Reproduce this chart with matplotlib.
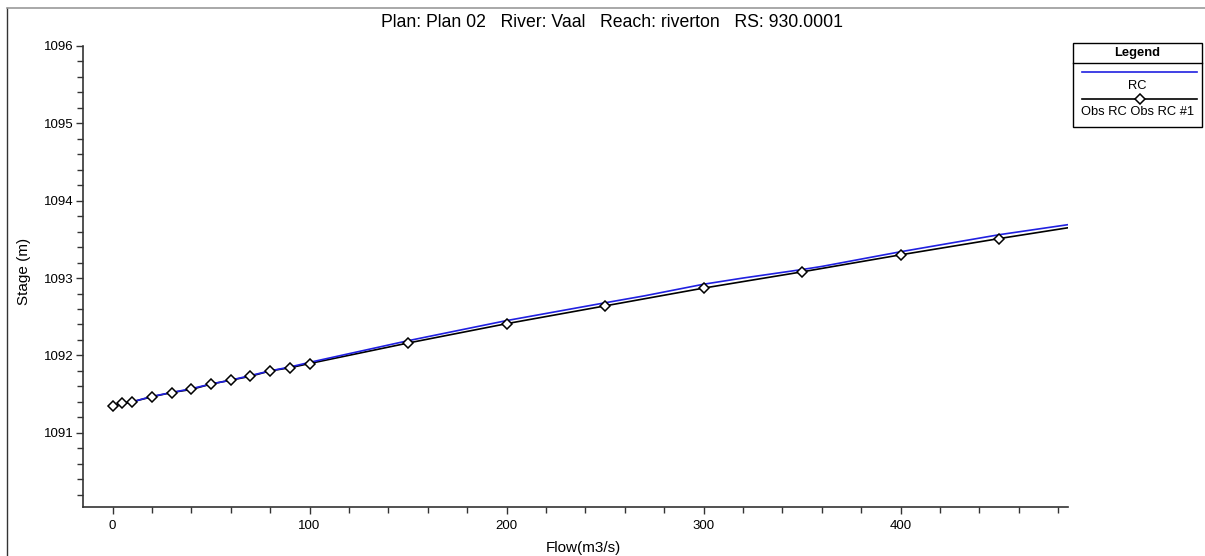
import numpy as np
import matplotlib.pyplot as plt
from matplotlib.ticker import MultipleLocator
from matplotlib.lines import Line2D
from matplotlib.patches import Rectangle

plt.rcParams['font.family'] = ['Liberation Sans', 'DejaVu Sans']

# rating curve (computed)
rc_flow = [0, 10, 20, 30, 40, 50, 60, 70, 80, 90, 100, 150, 200, 250, 270, 300, 320, 350, 360, 400, 450, 485]
rc_stage = [1091.35, 1091.40, 1091.47, 1091.52, 1091.57, 1091.63, 1091.68, 1091.74, 1091.80, 1091.85, 1091.91,
            1092.19, 1092.45, 1092.68, 1092.77, 1092.92, 1093.00, 1093.11, 1093.15, 1093.34, 1093.56, 1093.69]

# observed rating curve
obs_flow = [0, 5, 10, 20, 30, 40, 50, 60, 70, 80, 90, 100, 150, 200, 250, 300, 350, 400, 450]
obs_stage = [1091.35, 1091.38, 1091.40, 1091.465, 1091.52, 1091.56, 1091.63, 1091.68, 1091.73, 1091.80,
             1091.84, 1091.895, 1092.16, 1092.41, 1092.64, 1092.87, 1093.08, 1093.30, 1093.51]
obs_end_flow = 485
obs_end_stage = 1093.65

fig = plt.figure(figsize=(12.05, 5.56), dpi=100)
ax = fig.add_axes([0.0689, 0.0881, 0.8174, 0.8292])

ax.plot(rc_flow, rc_stage, color='#2020e0', lw=1.2, zorder=3)
ax.plot(obs_flow + [obs_end_flow], obs_stage + [obs_end_stage], color='black', lw=1.2, zorder=2)
ax.plot(obs_flow, obs_stage, ls='none', marker='D', ms=5, mfc='white', mec='black', mew=1.1, zorder=4)

ax.set_xlim(-15, 485)
ax.set_ylim(1090.04, 1096)
ax.xaxis.set_major_locator(MultipleLocator(100))
ax.xaxis.set_minor_locator(MultipleLocator(20))
ax.yaxis.set_major_locator(MultipleLocator(1))
ax.yaxis.set_minor_locator(MultipleLocator(0.2))
ax.yaxis.set_major_formatter(plt.FuncFormatter(lambda v, p: f'{v:.0f}'))

for s in ['top', 'right']:
    ax.spines[s].set_visible(False)
for s in ['left', 'bottom']:
    ax.spines[s].set_color('#333333')
    ax.spines[s].set_linewidth(1.2)
ax.tick_params(which='major', direction='out', length=5, width=1, color='#333333', labelsize=9.5, pad=2)
ax.tick_params(which='minor', direction='out', length=4, width=1, color='#333333')
ax.tick_params(axis='x', pad=4)

fig.text(0.02, 0.511, 'Stage (m)', rotation=90, ha='center', va='center', fontsize=11)
fig.text(0.484, 0.0144, 'Flow(m3/s)', ha='center', va='center', fontsize=11)
fig.text(0.508, 0.959, 'Plan: Plan 02   River: Vaal   Reach: riverton   RS: 930.0001',
         ha='center', va='center', fontsize=12.7)

# outer frame
fig.add_artist(Line2D([7 / 1205, 7 / 1205], [0, 1 - 8 / 556], color='#333333', lw=1))
fig.add_artist(Line2D([7 / 1205, 1], [1 - 8 / 556, 1 - 8 / 556], color='#999999', lw=1.2))

# legend box
W, H = 1205, 556
x0, x1 = 1073 / W, 1202 / W
y_top, y_bot = 1 - 43 / H, 1 - 127 / H
fig.add_artist(Rectangle((x0, y_bot), x1 - x0, y_top - y_bot, fill=False, ec='black', lw=1,
                         transform=fig.transFigure))
fig.add_artist(Line2D([x0, x1], [1 - 63 / H, 1 - 63 / H], color='black', lw=1))
fig.text((x0 + x1) / 2, 1 - 53 / H, 'Legend', ha='center', va='center', fontsize=9.3, fontweight='bold')
fig.add_artist(Line2D([1082 / W, 1197 / W], [1 - 72 / H, 1 - 72 / H], color='#2020e0', lw=1.2))
fig.text((x0 + x1) / 2, 1 - 86 / H, 'RC', ha='center', va='center', fontsize=9.3)
fig.add_artist(Line2D([1082 / W, 1197 / W], [1 - 99 / H, 1 - 99 / H], color='black', lw=1.2))
fig.add_artist(Line2D([1140 / W], [1 - 99 / H], ls='none', marker='D', ms=5, mfc='white', mec='black', mew=1.1))
fig.text((x0 + x1) / 2, 1 - 112 / H, 'Obs RC Obs RC #1', ha='center', va='center', fontsize=9.3)

fig.savefig('out.png', dpi=100)
